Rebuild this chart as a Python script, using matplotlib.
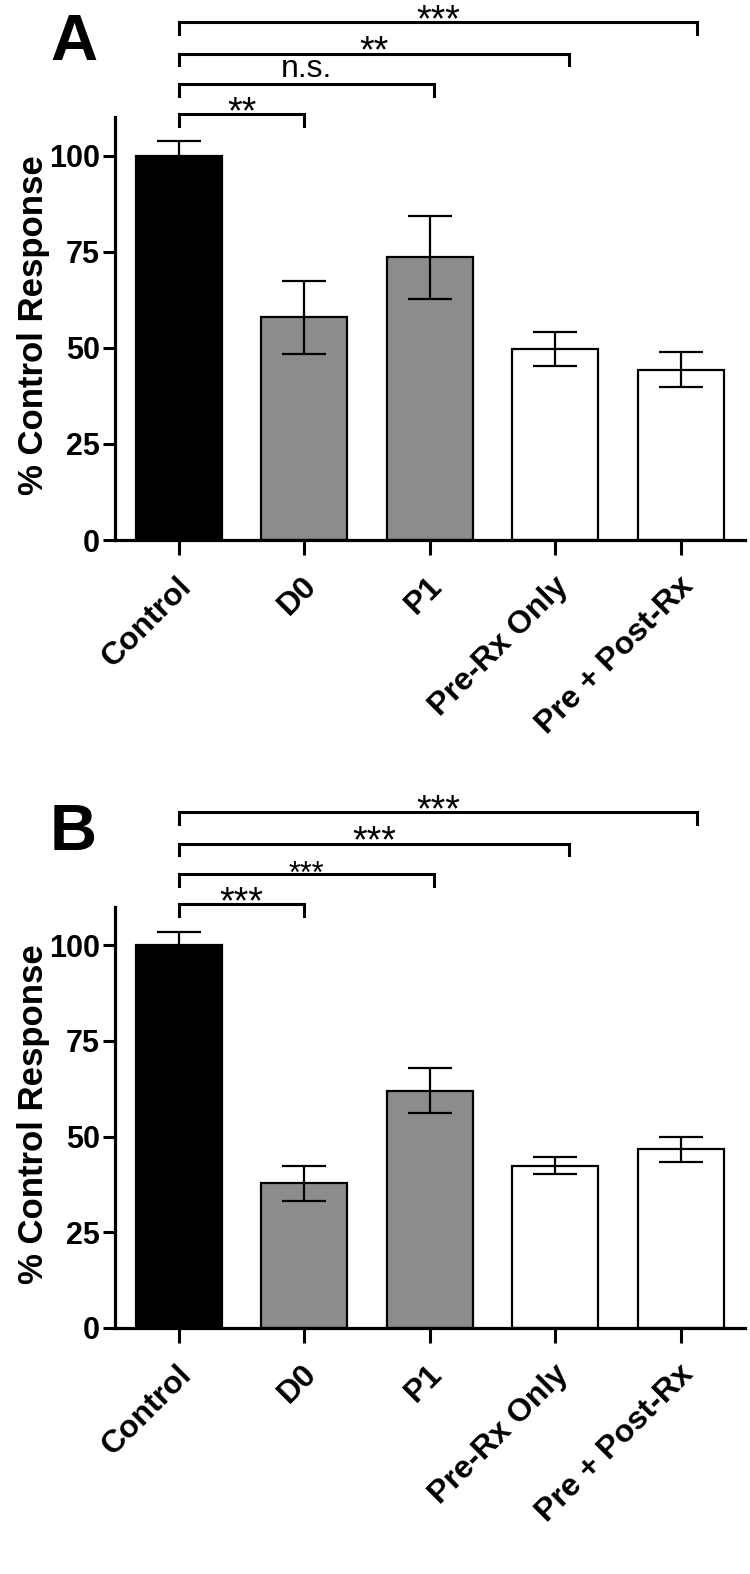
import numpy as np
import matplotlib
matplotlib.use("Agg")
import matplotlib.pyplot as plt
from matplotlib.transforms import ScaledTranslation

plt.rcParams['font.family'] = ['Liberation Sans', 'DejaVu Sans']

groups = ["Control", "D0", "P1", "Pre-Rx Only", "Pre + Post-Rx"]
bar_colors = ["black", "#8c8c8c", "#8c8c8c", "white", "white"]

# panel A
a_mean = [100, 57.9, 73.5, 49.6, 44.3]
a_sem = [3.9, 9.4, 10.8, 4.4, 4.5]
a_sig = ["**", "n.s.", "**", "***"]

# panel B
b_mean = [100, 37.8, 62.0, 42.4, 46.7]
b_sem = [3.4, 4.5, 5.8, 2.3, 3.3]
b_sig = ["***", "***", "***", "***"]

# comparison brackets: control vs each group
bracket_end = [1.0, 2.03, 3.11, 4.13]
bracket_y = [110.7, 118.5, 126.5, 134.7]

fig = plt.figure(figsize=(7.5, 15.74), dpi=100)
ax_a = fig.add_axes([0.1533, 0.6569, 0.84, 0.2687])
ax_b = fig.add_axes([0.1533, 0.1563, 0.84, 0.2675])


def draw_panel(ax, means, sems, sigs, letter, letter_y, small=None):
    x = np.arange(len(groups))
    ax.bar(x, means, width=0.685, color=bar_colors, edgecolor="black",
           linewidth=1.6, zorder=2)
    ax.errorbar(x, means, yerr=sems, fmt="none", ecolor="black",
                elinewidth=1.6, capsize=15.5, capthick=1.6, zorder=3)

    ax.set_xlim(-0.51, 4.51)
    ax.set_ylim(0, 110)
    ax.set_yticks([0, 25, 50, 75, 100])
    for s in ["top", "right"]:
        ax.spines[s].set_visible(False)
    for s in ["left", "bottom"]:
        ax.spines[s].set_linewidth(2.3)
    ax.tick_params(axis="y", length=9, width=2.2, pad=2, labelsize=22)
    ax.tick_params(axis="x", length=11, width=2.2, pad=14)
    for lab in ax.get_yticklabels():
        lab.set_fontweight("bold")

    ax.set_xticks(x)
    ax.set_xticklabels(groups, rotation=45, ha="right", va="center",
                       rotation_mode="anchor", fontsize=23, fontweight="bold")
    for lab in ax.get_xticklabels():
        lab.set_transform(lab.get_transform() +
                          ScaledTranslation(0.08, -0.07, fig.dpi_scale_trans))

    ax.set_ylabel("% Control Response", fontsize=25, fontweight="bold")
    ax.yaxis.set_label_coords(-0.103, 0.508)

    d = 3.0
    for i, (xe, yb, s) in enumerate(zip(bracket_end, bracket_y, sigs)):
        ax.plot([0, 0, xe, xe], [yb - d, yb, yb, yb - d], color="black",
                lw=2.2, clip_on=False, solid_joinstyle="miter")
        if s == "n.s.":
            ax.text(xe / 2, yb + 1.9, s, ha="center", va="baseline",
                    fontsize=23, clip_on=False)
        else:
            fs = 27
            if small is not None and i == small:
                fs = 22
            ax.text(xe / 2, yb - 2.3, s, ha="center", va="baseline",
                    fontsize=fs, clip_on=False)

    fig.text(50 / 750, letter_y, letter, fontsize=47, fontweight="bold",
             ha="left", va="baseline")


draw_panel(ax_a, a_mean, a_sem, a_sig, "A", 1 - 60 / 1574)
draw_panel(ax_b, b_mean, b_sem, b_sig, "B", 1 - 850 / 1574, small=1)

fig.savefig("out.png", dpi=100)
